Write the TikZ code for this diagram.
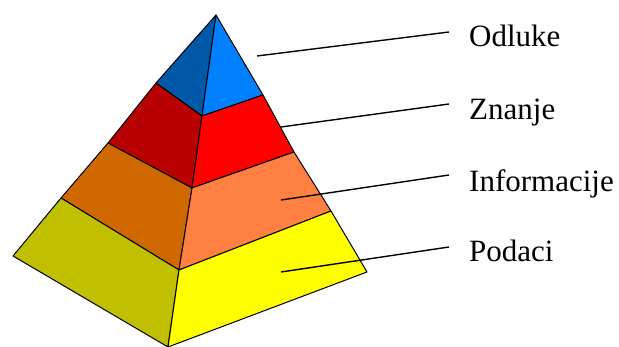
\documentclass[tikz,border=0pt]{standalone}
\usepackage{fontspec}
\setmainfont{Liberation Serif}
\definecolor{blueL}{HTML}{0058A8}
\definecolor{blueR}{HTML}{0080FF}
\definecolor{redL}{HTML}{B80000}
\definecolor{redR}{HTML}{FF0000}
\definecolor{orL}{HTML}{D06800}
\definecolor{orR}{HTML}{FF8040}
\definecolor{yeL}{HTML}{C0C000}
\definecolor{yeR}{HTML}{FFFF00}
\tikzset{
  face/.style={draw=black, line width=1pt, line join=round},
  lbl/.style={anchor=base west, inner sep=0pt, font=\fontsize{31}{37}\selectfont},
  leader/.style={draw=black, line width=1.4pt}
}
\begin{document}
\begin{tikzpicture}[x=1pt,y=-1pt]
\useasboundingbox (0,0) rectangle (619,347);
\coordinate (A) at (216,15);
\coordinate (L0) at (156,83);
\coordinate (L1) at (108,143);
\coordinate (L2) at (61,198);
\coordinate (L3) at (13,256);
\coordinate (F0) at (202,116);
\coordinate (F1) at (192,188);
\coordinate (F2) at (179,270);
\coordinate (F3) at (168,347);
\coordinate (R0) at (263,95);
\coordinate (R1) at (294,152);
\coordinate (R2) at (331,211);
\coordinate (R3) at (367,272);
% left faces
\filldraw[face, fill=blueL] (A) -- (L0) -- (F0) -- cycle;
\filldraw[face, fill=redL] (L0) -- (L1) -- (F1) -- (F0) -- cycle;
\filldraw[face, fill=orL] (L1) -- (L2) -- (F2) -- (F1) -- cycle;
\filldraw[face, fill=yeL] (L2) -- (L3) -- (F3) -- (F2) -- cycle;
% right faces
\filldraw[face, fill=blueR] (A) -- (F0) -- (R0) -- cycle;
\filldraw[face, fill=redR] (F0) -- (F1) -- (R1) -- (R0) -- cycle;
\filldraw[face, fill=orR] (F1) -- (F2) -- (R2) -- (R1) -- cycle;
\filldraw[face, fill=yeR] (F2) -- (F3) -- (R3) -- (R2) -- cycle;
% labels
\node[lbl] (odl) at (469,47) {Odluke};
\node[lbl] (zna) at (469,120) {Znanje};
\node[lbl] (inf) at (469,192) {Informacije};
\node[lbl] (pod) at (469,262) {Podaci};
\coordinate (s1) at (257,56);
\coordinate (e1) at (449,32);
\coordinate (s2) at (281,127);
\coordinate (e2) at (449,104);
\coordinate (s3) at (281,200);
\coordinate (e3) at (449,175);
\coordinate (s4) at (281,272);
\coordinate (e4) at (449,247);
\draw[leader] (s1) -- (e1);
\draw[leader] (s2) -- (e2);
\draw[leader] (s3) -- (e3);
\draw[leader] (s4) -- (e4);
\end{tikzpicture}
\end{document}
